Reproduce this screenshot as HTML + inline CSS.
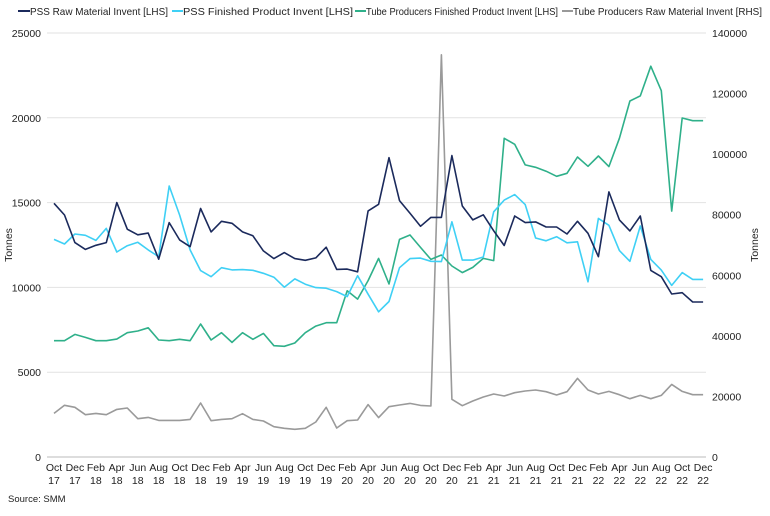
<!DOCTYPE html>
<html><head><meta charset="utf-8"><style>
body{margin:0;background:#fff;font-family:"Liberation Sans",Arial,sans-serif}
svg text{font-family:"Liberation Sans",Arial,sans-serif;fill:#222}
</style></head><body>
<svg id="c" width="770" height="511" viewBox="0 0 770 511" xmlns="http://www.w3.org/2000/svg">
<g id="legend" font-size="10.5">
<g><line x1="18" y1="11" x2="30" y2="11" stroke="#1b2a5c" stroke-width="2"/><text x="30" y="15" textLength="138" lengthAdjust="spacingAndGlyphs">PSS Raw Material Invent [LHS]</text></g>
<g><line x1="172" y1="11" x2="183" y2="11" stroke="#3fd0f5" stroke-width="2"/><text x="183" y="15" textLength="170" lengthAdjust="spacingAndGlyphs">PSS Finished Product Invent [LHS]</text></g>
<g><line x1="355" y1="11" x2="366" y2="11" stroke="#2fb08a" stroke-width="2"/><text x="366" y="15" textLength="192" lengthAdjust="spacingAndGlyphs">Tube Producers Finished Product Invent [LHS]</text></g>
<g><line x1="562" y1="11" x2="573" y2="11" stroke="#999" stroke-width="2"/><text x="573" y="15" textLength="189" lengthAdjust="spacingAndGlyphs">Tube Producers Raw Material Invent [RHS]</text></g>
</g>
<g id="grid"></g>
<g id="ylab" font-size="10.5" text-anchor="end"></g>
<g id="yrlab" font-size="10.5" text-anchor="start"></g>
<g id="xlab" font-size="10.5" text-anchor="middle"></g>
<g id="series"></g>
<text font-size="10.5" transform="translate(12,245) rotate(-90)" text-anchor="middle">Tonnes</text>
<text font-size="10.5" transform="translate(758,245) rotate(-90)" text-anchor="middle">Tonnes</text>
<text font-size="9.5" x="8" y="502">Source: SMM</text>
</svg>
<script>
const xLabels=["Oct","Dec","Feb","Apr","Jun","Aug","Oct","Dec","Feb","Apr","Jun","Aug","Oct","Dec","Feb","Apr","Jun","Aug","Oct","Dec","Feb","Apr","Jun","Aug","Oct","Dec","Feb","Apr","Jun","Aug","Oct","Dec"];
const xYears=["17","17","18","18","18","18","18","18","19","19","19","19","19","19","20","20","20","20","20","20","21","21","21","21","21","21","22","22","22","22","22","22"];
const leftTicks=[0,5000,10000,15000,20000,25000];
const rightTicks=[0,20000,40000,60000,80000,100000,120000,140000];
const pssRaw=[14960,14270,12640,12240,12480,12640,15000,13430,13100,13200,11660,13820,12800,12400,14650,13270,13900,13780,13270,13040,12150,11700,12050,11700,11600,11740,12370,11060,11080,10920,14510,14900,17650,15120,14370,13600,14130,14130,17770,14800,13980,14280,13340,12470,14210,13820,13860,13560,13560,13150,13900,13190,11810,15630,13980,13330,14210,11000,10630,9610,9690,9140,9140];
const pssFin=[12830,12560,13150,13070,12770,13480,12090,12460,12660,12210,11810,15980,14270,12210,10990,10630,11160,11030,11050,11010,10830,10600,10010,10500,10190,9990,9950,9750,9460,10690,9600,8560,9170,11160,11700,11730,11540,11520,13870,11610,11610,11790,14460,15150,15470,14880,12910,12750,12990,12630,12690,10330,14070,13660,12170,11540,13620,11650,11020,10120,10870,10470,10470];
const tubeFin=[6860,6860,7230,7050,6860,6860,6950,7330,7430,7620,6900,6860,6940,6860,7840,6900,7330,6760,7330,6940,7290,6560,6530,6720,7330,7720,7920,7920,9800,9310,10400,11710,10200,12830,13090,12360,11650,11910,11260,10870,11180,11710,11580,18790,18440,17220,17080,16850,16550,16730,17690,17140,17750,17120,18790,20990,21290,23040,21600,14500,19990,19830,19830];
const tubeRaw=[14400,17070,16410,13970,14400,13970,15730,16170,12650,13090,12100,12100,12100,12430,17830,12000,12430,12650,14290,12430,11880,10010,9470,9130,9470,11550,16410,9570,12000,12210,17290,13020,16610,17160,17710,17050,16830,132800,19050,16940,18480,19800,20790,20130,21230,21780,22110,21560,20460,21560,25960,22110,20790,21670,20570,19250,20350,19250,20350,23980,21670,20570,20570];
const NS="http://www.w3.org/2000/svg";
const X0=54,DX=10.47,Y0=457,H=424;
const xs=i=>X0+DX*i;
const yL=v=>Y0-v/25000*H;
const yR=v=>Y0-v/140000*H;
function mk(t,a,p){const e=document.createElementNS(NS,t);for(const k in a)e.setAttribute(k,a[k]);p.appendChild(e);return e;}
const grid=document.getElementById('grid'),yl=document.getElementById('ylab'),yr=document.getElementById('yrlab'),xl=document.getElementById('xlab'),sr=document.getElementById('series');
leftTicks.forEach(v=>{
 const g=mk('line',{x1:47,x2:706,y1:yL(v),y2:yL(v),stroke:v===0?'#bbb':'#e2e2e2','stroke-width':1},grid);
 
 
 const t=mk('text',{x:41,y:yL(v)+4},yl);t.textContent=v;
 
 
});
rightTicks.forEach(v=>{
 const t=mk('text',{x:712,y:yR(v)+4},yr);t.textContent=v;
 
 
});
xLabels.forEach((m,k)=>{
 const t=mk('text',{x:xs(k*2),y:471},xl);t.textContent=m;
 
 
 const t2=mk('text',{x:xs(k*2),y:484},xl);t2.textContent=xYears[k];
 
 
});
function line(data,fy,color,name){
 const d=data.map((v,i)=>(i?'L':'M')+xs(i).toFixed(1)+' '+fy(v).toFixed(1)).join(' ');
 const p=mk('path',{d:d,fill:'none',stroke:color,'stroke-width':1.6,'stroke-linejoin':'round'},sr);
 
 
}
line(tubeRaw,yR,'#9a9a9a','line-tube-raw');
line(tubeFin,yL,'#2fb08a','line-tube-finished');
line(pssFin,yL,'#3fd0f5','line-pss-finished');
line(pssRaw,yL,'#1b2a5c','line-pss-raw');
</script>
</body></html>
